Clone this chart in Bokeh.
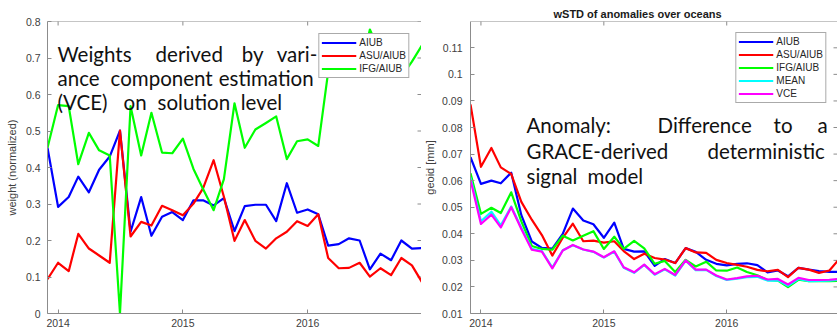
import math
import pandas as pd
from bokeh.plotting import figure
from bokeh.layouts import row
from bokeh.models import (Legend, LegendItem, Label, FixedTicker, DatetimeTickFormatter,
                          Range1d, Span)
from bokeh.embed import file_html
from bokeh.resources import INLINE

# Monthly solutions, Dec 2013 .. Dec 2016
months = pd.date_range("2013-12-01", periods=37, freq="MS")

# VCE weights (normalized) per contributing solution
w_aiub = [0.454, 0.292, 0.319, 0.375, 0.332, 0.394, 0.430, 0.501, 0.224, 0.319,
          0.213, 0.265, 0.278, 0.256, 0.310, 0.310, 0.296, 0.316, 0.226, 0.294,
          0.298, 0.298, 0.253, 0.357, 0.276, 0.285, 0.272, 0.186, 0.190, 0.206,
          0.200, 0.121, 0.164, 0.146, 0.200, 0.178, 0.179]
w_asu = [0.094, 0.139, 0.116, 0.218, 0.178, 0.159, 0.139, 0.501, 0.211, 0.251,
         0.241, 0.295, 0.283, 0.269, 0.301, 0.343, 0.420, 0.320, 0.199, 0.256,
         0.199, 0.178, 0.206, 0.224, 0.253, 0.240, 0.272, 0.152, 0.124, 0.125,
         0.139, 0.101, 0.124, 0.105, 0.152, 0.132, 0.085]
w_ifg = [0.454, 0.571, 0.568, 0.409, 0.495, 0.447, 0.433, 0.000, 0.568, 0.433,
         0.550, 0.441, 0.439, 0.479, 0.396, 0.341, 0.283, 0.368, 0.576, 0.454,
         0.504, 0.522, 0.540, 0.423, 0.472, 0.477, 0.459, 0.662, 0.686, 0.669,
         0.661, 0.778, 0.712, 0.749, 0.648, 0.690, 0.736]

# Weighted STD of geoid anomalies over oceans [mm]
s_aiub = [0.0688, 0.0588, 0.0600, 0.0590, 0.0630, 0.0470, 0.0371, 0.0347, 0.0344, 0.0400,
          0.0495, 0.0450, 0.0436, 0.0385, 0.0442, 0.0343, 0.0333, 0.0334, 0.0279, 0.0305,
          0.0290, 0.0346, 0.0332, 0.0302, 0.0287, 0.0281, 0.0287, 0.0289, 0.0282, 0.0255,
          0.0262, 0.0240, 0.0272, 0.0265, 0.0260, 0.0257, 0.0257]
s_asu = [0.0887, 0.0652, 0.0723, 0.0650, 0.0625, 0.0520, 0.0453, 0.0395, 0.0318, 0.0385,
         0.0438, 0.0372, 0.0374, 0.0367, 0.0372, 0.0335, 0.0305, 0.0325, 0.0309, 0.0303,
         0.0290, 0.0346, 0.0330, 0.0328, 0.0302, 0.0290, 0.0283, 0.0276, 0.0264, 0.0259,
         0.0264, 0.0237, 0.0272, 0.0265, 0.0253, 0.0262, 0.0306]
s_ifg = [0.0628, 0.0475, 0.0498, 0.0478, 0.0556, 0.0447, 0.0354, 0.0343, 0.0340, 0.0393,
         0.0375, 0.0393, 0.0410, 0.0343, 0.0389, 0.0343, 0.0373, 0.0345, 0.0287, 0.0298,
         0.0256, 0.0302, 0.0277, 0.0295, 0.0262, 0.0261, 0.0273, 0.0256, 0.0244, 0.0226,
         0.0224, 0.0199, 0.0227, 0.0222, 0.0222, 0.0222, 0.0223]
s_mean = [0.0612, 0.0447, 0.0483, 0.0432, 0.0503, 0.0423, 0.0343, 0.0335, 0.0273, 0.0338,
          0.0357, 0.0341, 0.0332, 0.0311, 0.0333, 0.0272, 0.0253, 0.0283, 0.0246, 0.0266,
          0.0243, 0.0299, 0.0263, 0.0264, 0.0241, 0.0226, 0.0231, 0.0237, 0.0238, 0.0224,
          0.0225, 0.0204, 0.0230, 0.0222, 0.0223, 0.0224, 0.0227]
s_vce = [0.0603, 0.0437, 0.0472, 0.0424, 0.0500, 0.0418, 0.0340, 0.0333, 0.0270, 0.0337,
         0.0358, 0.0341, 0.0333, 0.0312, 0.0334, 0.0274, 0.0255, 0.0284, 0.0248, 0.0268,
         0.0245, 0.0300, 0.0265, 0.0265, 0.0243, 0.0228, 0.0233, 0.0240, 0.0242, 0.0228,
         0.0230, 0.0209, 0.0234, 0.0226, 0.0226, 0.0227, 0.0230]

year_ticks = ["2014-01-01", "2015-01-01", "2016-01-01"]
weight_ticks = [0, 0.1, 0.2, 0.3, 0.4, 0.5, 0.6, 0.7, 0.8]
weight_tick_labels = ["0", "0.1", "0.2", "0.3", "0.4", "0.5", "0.6", "0.7", "0.8"]
geoid_ticks = [0.01, 0.02, 0.03, 0.04, 0.05, 0.06, 0.07, 0.08, 0.09, 0.1, 0.11]
geoid_tick_labels = ["0.01", "0.02", "0.03", "0.04", "0.05", "0.06", "0.07",
                     "0.08", "0.09", "0.1", "0.11"]

BLUE, RED, GREEN, CYAN, MAGENTA = "#0000ff", "#ff0000", "#00ff00", "#00ffff", "#ff00ff"
AXIS_GRAY = "#8c8c8c"
TICK_TEXT = "#404040"
TICK_FONT = "Liberation Sans"
NOTE_FONT = "Lato"
DAY_MS = 86400000.0


def ms(d):
    return pd.Timestamp(d).timestamp() * 1000.0


X_START = ms("2013-12-01")
year_ms = [ms(d) for d in year_ticks]


def style_axes(p, yticks, ylabels, ylabel):
    p.xaxis.ticker = FixedTicker(ticks=year_ms)
    p.xaxis.formatter = DatetimeTickFormatter(years="%Y", months="%Y", days="%Y")
    p.yaxis.ticker = FixedTicker(ticks=yticks)
    p.yaxis.major_label_overrides = dict(zip(yticks, ylabels))
    p.yaxis.axis_label = ylabel
    for ax in (p.xaxis[0], p.yaxis[0]):
        ax.axis_line_color = AXIS_GRAY
        ax.major_tick_line_color = AXIS_GRAY
        ax.major_tick_in = 4
        ax.major_tick_out = 0
        ax.minor_tick_line_color = None
        ax.major_label_text_font = TICK_FONT
        ax.major_label_text_font_size = "10.5px"
        ax.major_label_text_color = TICK_TEXT
        ax.axis_label_text_font = TICK_FONT
        ax.axis_label_text_font_size = "11px"
        ax.axis_label_text_font_style = "normal"
        ax.axis_label_text_color = TICK_TEXT
    p.xaxis.major_label_standoff = 5
    p.xgrid.grid_line_color = None
    p.ygrid.grid_line_color = None
    p.outline_line_color = None

    # box: top border line plus inward ticks on the top and right edges
    x_end = p.x_range.end
    y_end = p.y_range.end
    p.add_layout(Span(location=y_end, dimension="width", line_color=AXIS_GRAY, line_width=1))
    p.scatter(year_ms, [y_end] * len(year_ms), marker="dash", size=8, angle=math.pi / 2,
              line_color=AXIS_GRAY, line_width=1)
    p.scatter([x_end] * len(yticks), yticks, marker="dash", size=8,
              line_color=AXIS_GRAY, line_width=1)


def make_legend(items, label_h, margin):
    return Legend(items=items, location="top_right", margin=margin, padding=2,
                  spacing=0, glyph_width=35, glyph_height=label_h, label_height=label_h,
                  label_standoff=3, label_text_font=TICK_FONT, label_text_font_size="10px",
                  label_text_color="#262626", border_line_color="#555555",
                  border_line_width=1, background_fill_color="white",
                  background_fill_alpha=1.0)


def add_words(p, words, to_x, to_y):
    for text, px, py in words:
        p.add_layout(Label(x=to_x(px), y=to_y(py), text=text, text_font=NOTE_FONT,
                           text_font_size="20.5px", text_color="#111111",
                           text_baseline="alphabetic", text_align="left"))


# ---- left panel: VCE weights ----
L_DAY_PX = 0.3415
left = figure(width=421, height=331, x_axis_type="datetime", output_backend="svg",
              toolbar_location=None, min_border_left=47, min_border_right=0,
              min_border_top=17, min_border_bottom=18,
              x_range=Range1d(X_START, X_START + 1094 * DAY_MS), y_range=Range1d(0, 0.8))
style_axes(left, weight_ticks, weight_tick_labels, "weight (normalized)")
left.yaxis[0].major_label_standoff = 7
left.yaxis[0].axis_label_standoff = 5

r1 = left.line(months, w_aiub, line_color=BLUE, line_width=2.2, line_join="round")
r2 = left.line(months, w_asu, line_color=RED, line_width=2.2, line_join="round")
r3 = left.line(months, w_ifg, line_color=GREEN, line_width=2.2, line_join="round")
left.add_layout(make_legend([LegendItem(label="AIUB", renderers=[r1]),
                             LegendItem(label="ASU/AIUB", renderers=[r2]),
                             LegendItem(label="IFG/AIUB", renderers=[r3])], 13, 12))


def lx(px):
    return X_START + (px - 47) / L_DAY_PX * DAY_MS


def ly(py):
    return (313 - py) / 370.0


add_words(left, [("Weights", 57, 50), ("derived", 155, 50), ("by", 241, 50), ("vari-", 276, 50),
                 ("ance", 57, 74.5), ("component", 110, 74.5), ("estimation", 218, 74.5),
                 ("(VCE)", 57, 99), ("on", 123, 99), ("solution", 157, 99), ("level", 240, 99)],
          lx, ly)

# ---- right panel: wSTD of anomalies ----
R_DAY_PX = 0.3366
right = figure(width=416, height=331, x_axis_type="datetime", output_backend="svg",
               toolbar_location=None, min_border_left=49, min_border_right=0,
               min_border_top=21, min_border_bottom=18,
               x_range=Range1d(X_START, X_START + 1090 * DAY_MS),
               y_range=Range1d(0.01, 0.1199))
style_axes(right, geoid_ticks, geoid_tick_labels, "geoid [mm]")
right.yaxis[0].major_label_standoff = 8
right.yaxis[0].axis_label_standoff = 3
right.title.text = "wSTD of anomalies over oceans"
right.title.text_font = TICK_FONT
right.title.text_font_size = "11px"
right.title.text_font_style = "bold"
right.title.text_color = "#1a1a1a"
right.title.align = "left"
right.title.offset = 83
right.title.standoff = 4

q1 = right.line(months, s_aiub, line_color=BLUE, line_width=2.2, line_join="round")
q2 = right.line(months, s_asu, line_color=RED, line_width=2.2, line_join="round")
q3 = right.line(months, s_ifg, line_color=GREEN, line_width=2.2, line_join="round")
q4 = right.line(months, s_mean, line_color=CYAN, line_width=2.2, line_join="round")
q5 = right.line(months, s_vce, line_color=MAGENTA, line_width=2.2, line_join="round")
right.add_layout(make_legend([LegendItem(label="AIUB", renderers=[q1]),
                              LegendItem(label="ASU/AIUB", renderers=[q2]),
                              LegendItem(label="IFG/AIUB", renderers=[q3]),
                              LegendItem(label="MEAN", renderers=[q4]),
                              LegendItem(label="VCE", renderers=[q5])], 13, 11))


def rx(px):
    return X_START + (px - 470) / R_DAY_PX * DAY_MS


def ry(py):
    return 0.01 + (313 - py) / 2653.0


add_words(right, [("Anomaly:", 526, 125), ("Difference", 657, 125), ("to", 773, 125),
                  ("a", 817, 125), ("GRACE-derived", 526, 151), ("deterministic", 707, 151),
                  ("signal", 526, 175.5), ("model", 587, 175.5)], rx, ry)

layout = row(left, right)
open("out.html", "w").write(file_html(layout, INLINE))
